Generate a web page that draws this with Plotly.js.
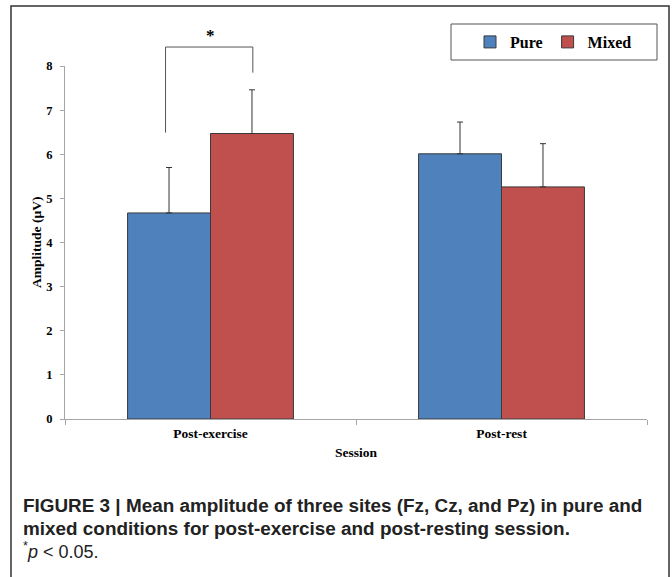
<!DOCTYPE html>
<html>
<head>
<meta charset="utf-8">
<script src="https://cdn.plot.ly/plotly-3.0.1.min.js"></script>
<style>html,body{margin:0;padding:0;background:#fff;}#chart{width:672px;height:577px;}</style>
</head>
<body>
<div id="chart"></div>
<script>
// ---- data ----
const sessions = ['Post-exercise', 'Post-rest'];
const pureMeans = [4.67, 6.01];
const pureErr = [1.03, 0.72];
const mixedMeans = [6.47, 5.26];
const mixedErr = [0.99, 0.98];
const yTicks = [0, 1, 2, 3, 4, 5, 6, 7, 8];
// significance bracket (value units): left foot, top, right foot
const bracketLeftFoot = 6.49;
const bracketTop = 8.43;
const bracketRightFoot = 7.85;
const sigLabel = '*';

const W = 672, H = 577;
const M = {l: 65, r: 25, t: 66, b: 158};
const yMax = 8;
const bargap = 0.43;
const plotW = W - M.l - M.r, plotH = H - M.t - M.b;
const pxToPaperX = px => (px - M.l) / plotW;
const pxToPaperY = py => (H - M.b - py) / plotH;
const valToPaperY = v => v / yMax;

const serif = 'Liberation Serif, Times New Roman, serif';
const sans = 'Liberation Sans, Arial, Helvetica, sans-serif';

const traces = [
  {
    type: 'bar', name: '<b>Pure</b>', x: sessions, y: pureMeans,
    marker: {color: '#4F81BD', line: {color: '#3a3a3a', width: 1}},
    error_y: {type: 'data', symmetric: false, array: pureErr, arrayminus: pureErr.map(() => 0),
              color: '#333', thickness: 1, width: 3}
  },
  {
    type: 'bar', name: '<b>Mixed</b>', x: sessions, y: mixedMeans,
    marker: {color: '#C0504D', line: {color: '#3a3a3a', width: 1}},
    error_y: {type: 'data', symmetric: false, array: mixedErr, arrayminus: mixedErr.map(() => 0),
              color: '#333', thickness: 1, width: 3}
  }
];

const halfBar = (1 - bargap) / 4; // center offset of each bar within a group
const xL = 0 - halfBar, xR = 0 + halfBar;

const shapes = [
  // significance bracket
  {type: 'path', xref: 'x', yref: 'paper',
   path: `M ${xL - 0.012},${valToPaperY(bracketLeftFoot)} L ${xL - 0.012},${valToPaperY(bracketTop)} L ${xR + 0.003},${valToPaperY(bracketTop)} L ${xR + 0.003},${valToPaperY(bracketRightFoot)}`,
   line: {color: '#555', width: 1}},
  // legend box
  {type: 'rect', xref: 'paper', yref: 'paper',
   x0: pxToPaperX(451), x1: pxToPaperX(657), y0: pxToPaperY(60), y1: pxToPaperY(24),
   line: {color: '#555', width: 1}, fillcolor: 'rgba(0,0,0,0)'},
  // outer frame
  {type: 'rect', xref: 'paper', yref: 'paper',
   x0: pxToPaperX(11), x1: pxToPaperX(669), y0: pxToPaperY(590), y1: pxToPaperY(6),
   line: {color: '#333', width: 1.5}, fillcolor: 'rgba(0,0,0,0)'}
];

const annotations = [
  {xref: 'x', yref: 'paper', x: 0, y: valToPaperY(bracketTop), yanchor: 'bottom', yshift: 0,
   text: '<b>' + sigLabel + '</b>', showarrow: false, font: {family: serif, size: 17, color: '#000'}},
  // y-axis title
  {xref: 'paper', yref: 'paper', x: pxToPaperX(36.5), y: 0.5, xanchor: 'center', yanchor: 'middle',
   textangle: -90, text: '<b>Amplitude (µV)</b>', showarrow: false,
   font: {family: serif, size: 13.5, color: '#000'}},
  {xref: 'paper', yref: 'paper', x: pxToPaperX(21), y: pxToPaperY(505), xanchor: 'left', yanchor: 'middle',
   text: '<b>FIGURE 3 | Mean amplitude of three sites (Fz, Cz, and Pz) in pure and</b>', showarrow: false,
   font: {family: sans, size: 18.9, color: '#222'}},
  {xref: 'paper', yref: 'paper', x: pxToPaperX(21), y: pxToPaperY(528), xanchor: 'left', yanchor: 'middle',
   text: '<b>mixed conditions for post-exercise and post-resting session.</b>', showarrow: false,
   font: {family: sans, size: 18.9, color: '#222'}},
  {xref: 'paper', yref: 'paper', x: pxToPaperX(21), y: pxToPaperY(550), xanchor: 'left', yanchor: 'middle',
   text: '<sup>*</sup><i>p</i> < 0.05.', showarrow: false,
   font: {family: sans, size: 18, color: '#222'}}
];

const layout = {
  width: W, height: H,
  margin: M,
  paper_bgcolor: '#fff', plot_bgcolor: '#fff',
  barmode: 'group', bargap: bargap, bargroupgap: 0,
  font: {family: serif, color: '#000'},
  showlegend: true,
  legend: {orientation: 'h', x: pxToPaperX(470), y: pxToPaperY(42), xanchor: 'left', yanchor: 'middle',
           font: {family: serif, size: 16, color: '#000'},
           itemwidth: 30, bgcolor: 'rgba(0,0,0,0)', borderwidth: 0},
  xaxis: {
    type: 'category', showline: true, linecolor: '#A6A6A6', linewidth: 1,
    tickvals: sessions, ticktext: sessions.map(s => '<b>' + s + '</b>'),
    ticks: 'outside', tickson: 'boundaries', ticklen: 5, tickcolor: '#A6A6A6', ticklabelstandoff: 2,
    showgrid: false, zeroline: false,
    tickfont: {family: serif, size: 13.5, color: '#000'},
    title: {text: '<b>Session</b>', font: {family: serif, size: 13.5, color: '#000'}, standoff: 7}
  },
  yaxis: {
    range: [0, yMax], tickvals: yTicks, ticktext: yTicks.map(v => '<b>' + v + '</b>'),
    showline: true, linecolor: '#A6A6A6', linewidth: 1,
    ticks: 'outside', ticklen: 4, tickcolor: '#A6A6A6', ticklabelstandoff: 5,
    showgrid: false, zeroline: false,
    tickfont: {family: serif, size: 12.5, color: '#000'}
  },
  shapes: shapes,
  annotations: annotations
};

Plotly.newPlot('chart', traces, layout, {displayModeBar: false, staticPlot: true});
</script>
</body>
</html>
